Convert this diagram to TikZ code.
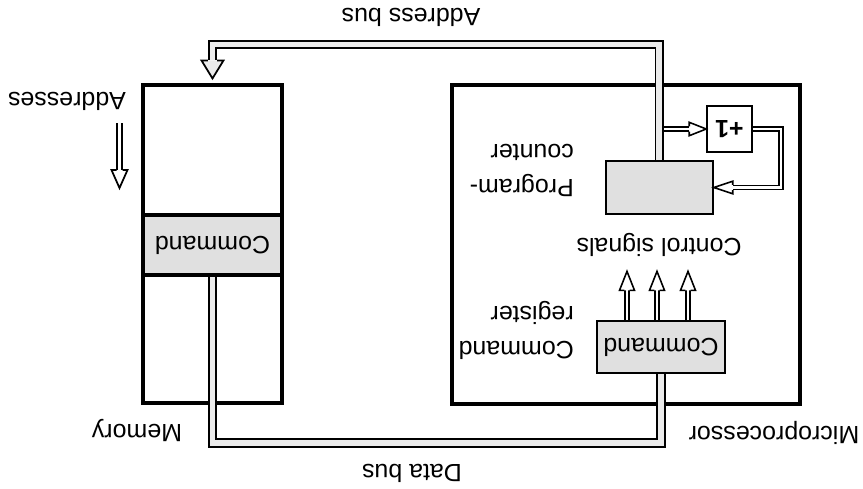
\documentclass[tikz,border=0pt]{standalone}
\usepackage{fontspec}
\setmainfont{Liberation Sans}
\usetikzlibrary{calc}

\tikzset{
  headfill/.style={fill=white},
  pics/hhead/.style n args={3}{code={
    \fill[headfill] (0,-#2) -- (#1,0) -- (0,#2) -- cycle;
    \draw (0,-#3) -- (0,-#2) -- (#1,0) -- (0,#2) -- (0,#3);
  }},
}

\begin{document}
\begin{tikzpicture}[x=0.02cm, y=-0.02cm,
  every node/.style={font=\fontsize{14.2}{19.9}\selectfont},
  txt/.style={rotate=180},
  box/.style={txt, draw, line width=1.8pt, inner sep=0pt},
  reg/.style={txt, draw, line width=1.3pt, fill=black!12, inner sep=0pt},
  bus/.style={draw, line width=1pt, double=black!8, double distance=3.4pt},
  sbus/.style={draw, line width=0.9pt, double=white, double distance=1.3pt}]
\useasboundingbox (0,0) rectangle (863,488);

% memory and microprocessor
\node[box, minimum width=2.78cm, minimum height=6.36cm] (mem) at (212.5,244) {};
\node[box, fill=black!12, minimum width=2.78cm, minimum height=1.2cm] (memcmd) at (212.5,245) {Command};
\node[box, minimum width=6.96cm, minimum height=6.38cm] (micro) at (626,244.5) {};
\node[reg, line width=1.1pt, minimum width=2.14cm, minimum height=1.06cm] (pc) at (659.3,187.5) {};
\node[txt, draw, line width=0.9pt, fill=white, minimum width=0.9cm, minimum height=0.92cm, inner sep=0pt] (inc) at (729.5,129) {\bfseries +1};
\node[reg, minimum width=2.56cm, minimum height=1.04cm] (creg) at (661,347) {Command};

% labels
\node[txt] (lbladdr) at (411,17) {Address bus};
\node[txt] (lbldata) at (412,473) {Data bus};
\node[txt] (lbladdrs) at (67,101) {Addresses};
\node[txt] (lblmem) at (137,430) {Memory};
\node[txt] (lblmicro) at (774,433) {Microprocessor};
\node[txt] (lblctrl) at (659,245) {Control signals};
\node[txt, anchor=west, align=left] (lblpc) at (580,170.5) {Program-\\counter};
\node[txt, anchor=west, align=left] (lblcreg) at (580,330.5) {Command\\register};

% counter loop
\draw[sbus] (pc.south |- inc.center) -- ($(inc.east)+(-17,0)$) coordinate (inchead);
\pic[line width=0.9pt] at (inchead) {hhead={17}{6.7}{2.6}};
\draw[sbus] (inc.west) -- ++(28,0) |- ($(pc.west)+(19,0)$) coordinate (pchead);
\pic[line width=0.9pt, rotate=180] at (pchead) {hhead={19}{6.3}{2.6}};

% control signals
\foreach \dx in {-34,-4,27} {
  \draw[sbus] ($(creg.south)+(\dx,0)$) -- ++(0,-29.5) coordinate (cs);
  \pic[line width=0.9pt, rotate=90] at (cs) {hhead={19}{7.5}{2.6}};
}

% addresses direction
\coordinate (adtop) at (119.5,123);
\draw[sbus, line width=1pt, double distance=1.6pt] (adtop) -- ++(0,47) coordinate (adhead);
\pic[line width=1pt, rotate=-90] at (adhead) {hhead={18}{8}{3}};

% buses
\coordinate (abus) at (0,44.5);
\coordinate (dbus) at (0,443);
\coordinate (memhead) at ($(mem.south)+(0,-23)$);
\draw[bus] (pc.south) -- (pc.south |- abus) -| (memhead);
\pic[line width=1pt, rotate=-90, headfill/.style={fill=black!8}] at (memhead) {hhead={18}{11}{4.6}};
\draw[bus] (creg.north) -- (creg.north |- dbus) -| (memcmd.north);
\end{tikzpicture}
\end{document}
